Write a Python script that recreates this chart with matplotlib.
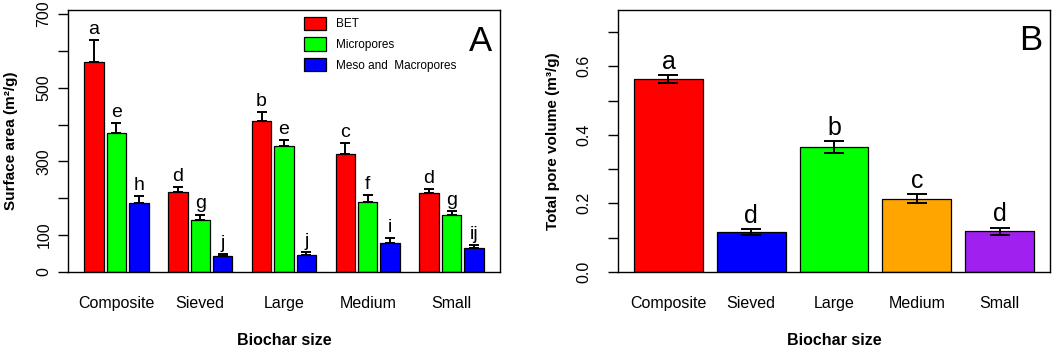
import numpy as np
import matplotlib
matplotlib.use("Agg")
import matplotlib.pyplot as plt

plt.rcParams['font.family'] = ['Liberation Sans', 'DejaVu Sans']

sizes = ['Composite', 'Sieved', 'Large', 'Medium', 'Small']

# panel A: surface area (m2/g)
bet = [571, 216, 411, 320, 214]
bet_err = [59, 14, 24, 29, 11]
micro = [376, 140, 342, 191, 156]
micro_err = [27, 16, 15, 18, 10]
meso = [187, 43, 47, 79, 66]
meso_err = [18, 6, 7, 12, 8]
bet_let = ['a', 'd', 'b', 'c', 'd']
micro_let = ['e', 'g', 'e', 'f', 'g']
meso_let = ['h', 'j', 'j', 'i', 'ij']

# panel B: total pore volume (m3/g)
tpv = [0.562, 0.116, 0.364, 0.214, 0.119]
tpv_err = [0.012, 0.008, 0.017, 0.012, 0.010]
tpv_let = ['a', 'd', 'b', 'c', 'd']
tpv_col = ['#FF0000', '#0000FF', '#00FF00', '#FFA500', '#A020F0']

fig = plt.figure(figsize=(10.52, 3.48), dpi=100)
axA = fig.add_axes([68/1052, 76/348, 432/1052, 262/348])
axB = fig.add_axes([618/1052, 76/348, 432/1052, 262/348])

# ---- A ----
g = np.arange(5) * 4.3
series = [(bet, bet_err, bet_let, '#FF0000', 'BET'),
          (micro, micro_err, micro_let, '#00FF00', 'Micropores'),
          (meso, meso_err, meso_let, '#0000FF', 'Meso and  Macropores')]
for k, (v, e, lets, c, lab) in enumerate(series):
    x = g + k * 1.15 + 0.5
    axA.bar(x, v, width=1, color=c, edgecolor='black', linewidth=0.9, label=lab)
    axA.errorbar(x, v, yerr=[np.zeros(5), e], fmt='none', ecolor='black',
                 elinewidth=1.4, capsize=3.5, capthick=1.4)
    for xi, vi, ei, li in zip(x, v, e, lets):
        axA.annotate(li, (xi, vi + ei), xytext=(0, 1.5), textcoords='offset points',
                     ha='center', va='bottom', fontsize=14)
axA.set_xlim(-0.84, 20.5 + 0.84)
axA.set_ylim(0, 711)
axA.set_xticks(g + 1.65)
axA.set_xticklabels(sizes, fontsize=11.5)
axA.set_yticks(np.arange(0, 701, 100))
axA.set_yticklabels(['0', '100', '', '300', '', '500', '', '700'],
                    rotation=90, va='center', fontsize=11.5)
axA.set_ylabel('Surface area (m²/g)', fontsize=11, fontweight='bold', labelpad=13)
axA.set_xlabel('Biochar size', fontsize=11.5, fontweight='bold', labelpad=16)
axA.text(0.955, 0.88, 'A', transform=axA.transAxes, fontsize=25, ha='center', va='center')
axA.legend(loc='upper left', bbox_to_anchor=(0.546, 0.975), frameon=False,
           fontsize=8.5, handlelength=1.86, handleheight=1.36, labelspacing=0.6,
           handletextpad=0.85, borderpad=0, borderaxespad=0)
axA.tick_params(axis='y', pad=5)

# ---- B ----
xb = np.arange(5) * 1.2 + 0.7
axB.bar(xb, tpv, width=1, color=tpv_col, edgecolor='black', linewidth=0.9)
axB.errorbar(xb, tpv, yerr=tpv_err, fmt='none', ecolor='black',
             elinewidth=1.4, capsize=7.5, capthick=1.4)
for xi, vi, ei, li in zip(xb, tpv, tpv_err, tpv_let):
    axB.annotate(li, (xi, vi + ei), xytext=(0, 1), textcoords='offset points',
                 ha='center', va='bottom', fontsize=18)
axB.set_xlim(0.2 - 0.232, 6.0 + 0.232)
axB.set_ylim(0, 0.764)
axB.set_xticks(xb)
axB.set_xticklabels(sizes, fontsize=11.5)
axB.set_yticks(np.arange(0, 0.71, 0.1))
axB.set_yticklabels(['0.0', '', '0.2', '', '0.4', '', '0.6', ''],
                    rotation=90, va='center', fontsize=11.5)
axB.set_ylabel('Total pore volume (m³/g)', fontsize=11, fontweight='bold', labelpad=12)
axB.set_xlabel('Biochar size', fontsize=11.5, fontweight='bold', labelpad=16)
axB.text(0.955, 0.885, 'B', transform=axB.transAxes, fontsize=25, ha='center', va='center')
axB.tick_params(axis='y', pad=12)

for ax in (axA, axB):
    for s in ax.spines.values():
        s.set_linewidth(1.0)
    ax.tick_params(axis='y', length=7, width=1.0)
    ax.tick_params(axis='x', length=0, pad=17)

fig.savefig('out.png', dpi=100)
